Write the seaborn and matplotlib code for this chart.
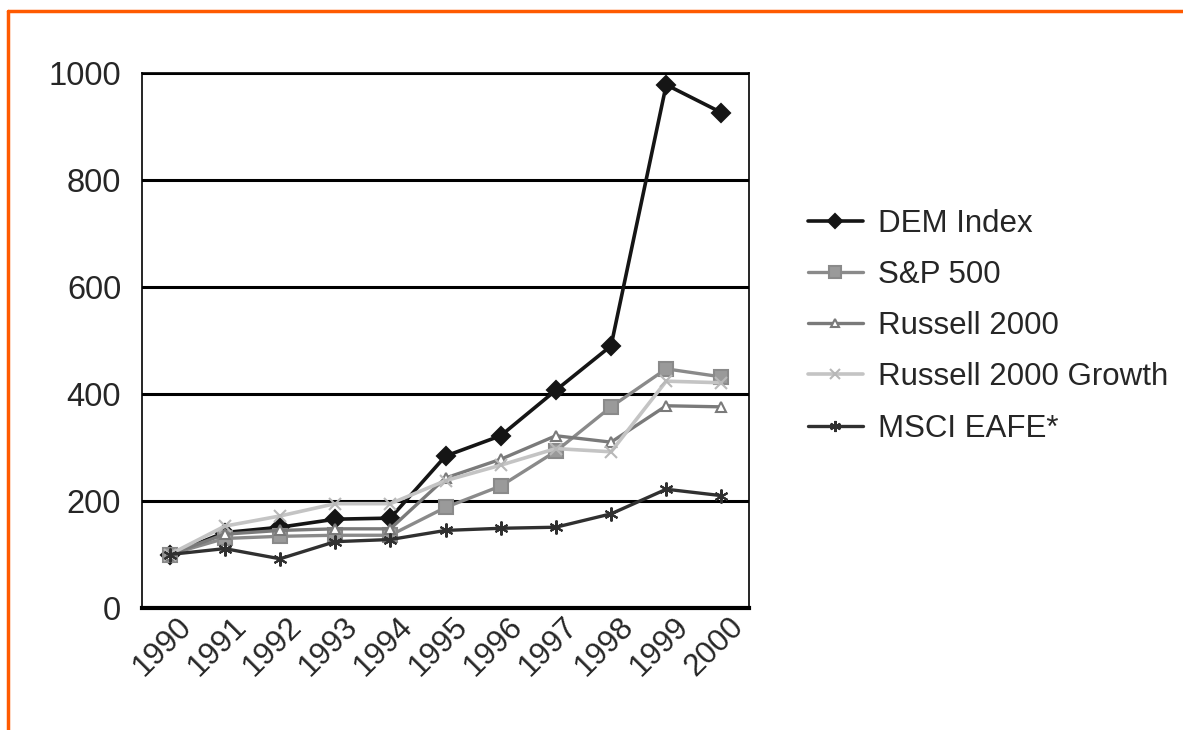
import matplotlib
matplotlib.use("Agg")
import matplotlib.pyplot as plt
import matplotlib.transforms as mtransforms
from matplotlib.lines import Line2D
import seaborn as sns
import pandas as pd
import numpy as np

# valores
years = ["1990", "1991", "1992", "1993", "1994", "1995",
         "1996", "1997", "1998", "1999", "2000"]
dem_index = [100, 141, 151, 166, 168, 284, 322, 407, 490, 978, 926]
sp500 = [100, 130, 134, 136, 136, 188, 228, 293, 376, 447, 432]
russell2000 = [100, 138, 145, 148, 148, 243, 278, 322, 310, 378, 376]
russell2000_growth = [100, 153, 172, 195, 195, 238, 267, 298, 292, 424, 421]
msci_eafe = [100, 111, 92, 124, 128, 145, 149, 151, 176, 222, 210]

series_names = ["DEM Index", "S&P 500", "Russell 2000",
                "Russell 2000 Growth", "MSCI EAFE*"]
y_ticks = [0, 200, 400, 600, 800, 1000]

sns.set_style("white")
plt.rcParams["font.family"] = ["Liberation Sans", "DejaVu Sans"]

datos = pd.DataFrame({
    "pos": np.tile(np.arange(len(years)), len(series_names)),
    "valor": dem_index + sp500 + russell2000 + russell2000_growth + msci_eafe,
    "serie": np.repeat(series_names, len(years)),
})

estilos = {
    "DEM Index": dict(color="#151515", marker="D", markersize=9, lw=2.6, mfc="#151515", mec="#151515"),
    "S&P 500": dict(color="#8a8a8a", marker="s", markersize=10, lw=2.4, mfc="#9a9a9a", mec="#8a8a8a"),
    "Russell 2000": dict(color="#7a7a7a", marker="^", markersize=7, lw=2.4, mfc="white", mec="#7a7a7a"),
    "Russell 2000 Growth": dict(color="#c4c4c4", marker="x", markersize=9, lw=2.6, mfc="#c4c4c4", mec="#b8b8b8"),
    "MSCI EAFE*": dict(color="#303030", marker=(6, 2, 0), markersize=10, lw=2.4, mfc="#303030", mec="#303030"),
}

fig = plt.figure(figsize=(11.83, 7.30), dpi=100)
ax = fig.add_axes([142 / 1183, 1 - 608 / 730, (749 - 142) / 1183, (608 - 73) / 730])

handles = []
for nombre in series_names:
    st = estilos[nombre]
    sub = datos[datos["serie"] == nombre]
    sns.lineplot(data=sub, x="pos", y="valor", ax=ax, color=st["color"], lw=st["lw"],
                 marker=st["marker"], markersize=st["markersize"],
                 markerfacecolor=st["mfc"], markeredgecolor=st["mec"], markeredgewidth=1.5,
                 legend=False, zorder=3)
    handles.append(Line2D([], [], color=st["color"], lw=st["lw"], marker=st["marker"],
                          markersize=st["markersize"] * 0.8, markerfacecolor=st["mfc"],
                          markeredgecolor=st["mec"], markeredgewidth=1.5))

ax.set_xlim(-0.5, len(years) - 0.5)
ax.set_ylim(0, 1000)
ax.set_yticks(y_ticks)
ax.set_yticklabels([str(v) for v in y_ticks], fontsize=23.5)
ax.set_xticks(np.arange(len(years) + 1) - 0.5)
ax.set_xticklabels([])
ax.set_xticks(np.arange(len(years)), minor=True)
ax.set_xticklabels(years, minor=True, fontsize=22.5, rotation=45, ha="right",
                   rotation_mode="anchor")
ax.tick_params(axis="x", which="minor", length=0, pad=5)
ax.tick_params(axis="x", which="major", length=6, width=1.2, direction="out", color="black")
ax.tick_params(axis="y", length=7, width=1.2, direction="out", color="black", pad=8)
ax.set_xlabel("")
ax.set_ylabel("")

# desplazar las etiquetas del eje x un poco a la derecha
desplazamiento = mtransforms.ScaledTranslation(7 / 100, 3 / 100, fig.dpi_scale_trans)
for lbl in ax.get_xticklabels(minor=True):
    lbl.set_transform(lbl.get_transform() + desplazamiento)

for v in y_ticks[1:]:
    ax.axhline(v, color="black", lw=2.2, zorder=1)

for lado in ["left", "right", "top"]:
    ax.spines[lado].set_visible(True)
    ax.spines[lado].set_color("black")
    ax.spines[lado].set_linewidth(1.2)
ax.spines["bottom"].set_color("black")
ax.spines["bottom"].set_linewidth(3)

fig.legend(handles, series_names, loc="center left", bbox_to_anchor=(808 / 1183, 1 - 326 / 730),
           frameon=False, fontsize=22.5, handlelength=1.75, handletextpad=0.5,
           labelspacing=0.68, borderpad=0, borderaxespad=0)

# marco naranja de la pagina
fig.add_artist(Line2D([8 / 1183, 8 / 1183], [0, 1 - 11 / 730], transform=fig.transFigure,
                      color="#ff5a00", lw=2.5))
fig.add_artist(Line2D([8 / 1183, 1], [1 - 11 / 730, 1 - 11 / 730], transform=fig.transFigure,
                      color="#ff5a00", lw=2.5))

fig.savefig("out.png", dpi=100)
